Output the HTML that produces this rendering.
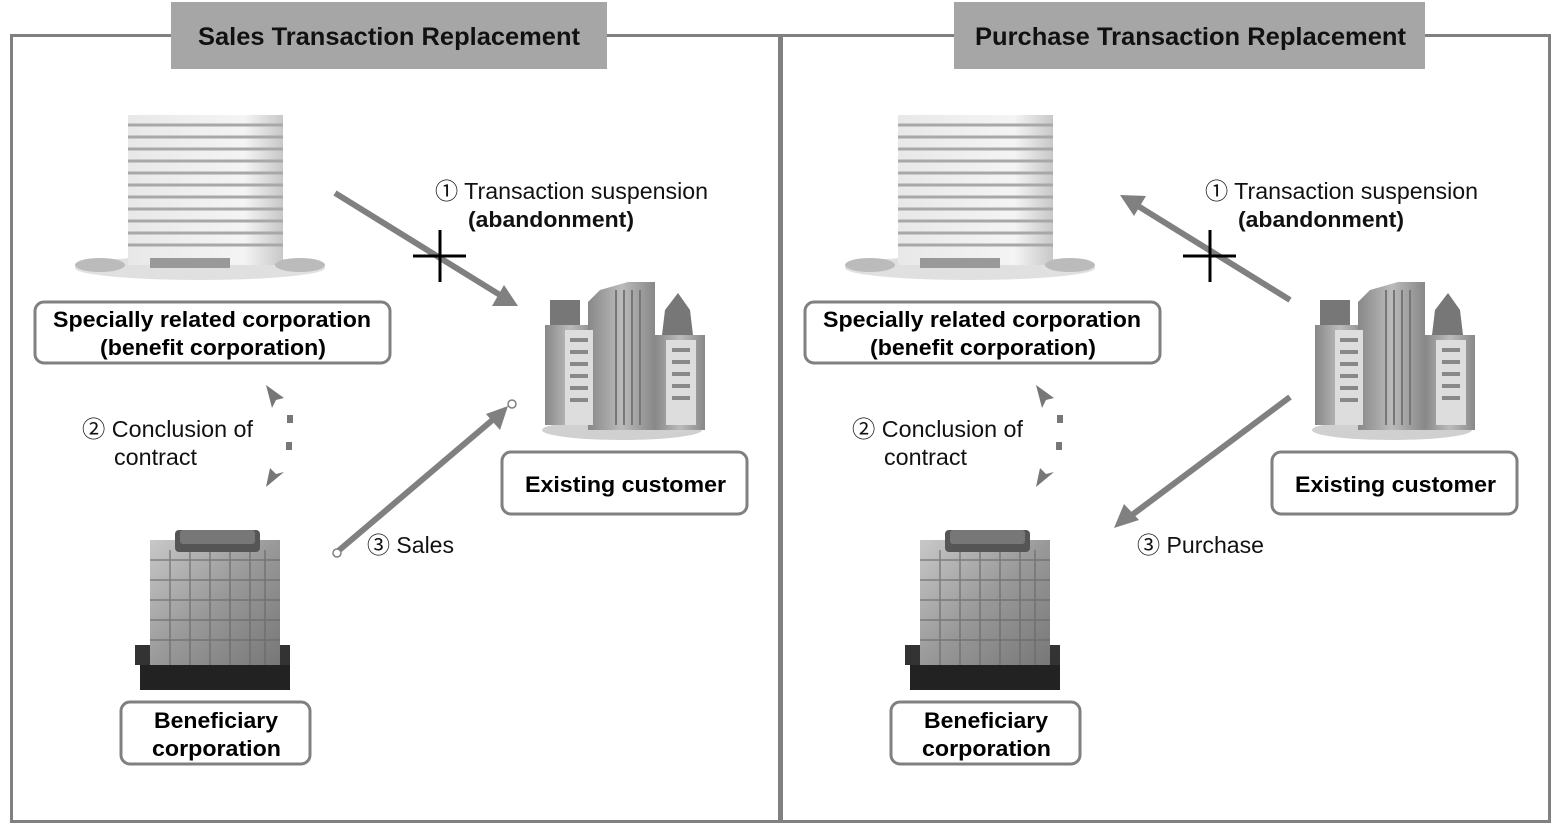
<!DOCTYPE html>
<html><head><meta charset="utf-8"><style>
html,body{margin:0;padding:0;background:#fff;}
svg{display:block;}
text{font-family:"Liberation Sans","Noto Sans CJK JP",sans-serif;}
</style></head><body>
<svg width="1560" height="826" viewBox="0 0 1560 826" xmlns="http://www.w3.org/2000/svg">
<defs>
<linearGradient id="tw" x1="0" x2="1"><stop offset="0" stop-color="#e8e8e8"/><stop offset="0.75" stop-color="#f4f4f4"/><stop offset="1" stop-color="#c8c8c8"/></linearGradient>
<linearGradient id="cg" x1="0" x2="1"><stop offset="0" stop-color="#888"/><stop offset="0.5" stop-color="#bbb"/><stop offset="1" stop-color="#888"/></linearGradient>
<linearGradient id="bg" x1="0" x2="1" y1="0" y2="1"><stop offset="0" stop-color="#c8c8c8"/><stop offset="0.5" stop-color="#999"/><stop offset="1" stop-color="#777"/></linearGradient>

<g id="office">
 <ellipse cx="200" cy="268" rx="125" ry="12" fill="#e0e0e0"/>
 <rect x="128" y="115" width="155" height="150" fill="url(#tw)"/>
 <g stroke="#a8a8a8" stroke-width="3">
  <line x1="128" y1="125" x2="283" y2="125"/><line x1="128" y1="137" x2="283" y2="137"/>
  <line x1="128" y1="149" x2="283" y2="149"/><line x1="128" y1="161" x2="283" y2="161"/>
  <line x1="128" y1="173" x2="283" y2="173"/><line x1="128" y1="185" x2="283" y2="185"/>
  <line x1="128" y1="197" x2="283" y2="197"/><line x1="128" y1="209" x2="283" y2="209"/>
  <line x1="128" y1="221" x2="283" y2="221"/><line x1="128" y1="233" x2="283" y2="233"/>
  <line x1="128" y1="245" x2="283" y2="245"/>
 </g>
 <rect x="150" y="258" width="80" height="10" fill="#999"/>
 <ellipse cx="100" cy="265" rx="25" ry="7" fill="#bbb"/>
 <ellipse cx="300" cy="265" rx="25" ry="7" fill="#bbb"/>
</g>

<g id="city">
 <ellipse cx="622" cy="430" rx="80" ry="10" fill="#d0d0d0"/>
 <rect x="550" y="300" width="30" height="30" fill="#777"/>
 <rect x="545" y="325" width="50" height="100" fill="url(#cg)"/>
 <path d="M588 302 L600 290 L628 282 L655 282 L655 430 L588 430Z" fill="url(#cg)"/>
 <g stroke="#777" stroke-width="2"><line x1="616" y1="290" x2="616" y2="425"/><line x1="624" y1="290" x2="624" y2="425"/><line x1="632" y1="290" x2="632" y2="425"/><line x1="640" y1="290" x2="640" y2="425"/></g>
 <path d="M662 335 L665 310 L678 293 L690 310 L693 335Z" fill="#777"/>
 <rect x="655" y="335" width="50" height="95" fill="url(#cg)"/>
 <rect x="565" y="330" width="28" height="95" fill="#ddd"/>
 <rect x="666" y="340" width="30" height="85" fill="#ddd"/>
 <g fill="#888">
  <rect x="570" y="338" width="18" height="4"/><rect x="570" y="350" width="18" height="4"/><rect x="570" y="362" width="18" height="4"/><rect x="570" y="374" width="18" height="4"/><rect x="570" y="386" width="18" height="4"/><rect x="570" y="398" width="18" height="4"/>
  <rect x="672" y="348" width="18" height="4"/><rect x="672" y="360" width="18" height="4"/><rect x="672" y="372" width="18" height="4"/><rect x="672" y="384" width="18" height="4"/><rect x="672" y="396" width="18" height="4"/>
 </g>
</g>

<g id="bene">
 <rect x="140" y="645" width="150" height="45" fill="#222"/>
 <rect x="135" y="645" width="155" height="20" fill="#333"/>
 <rect x="150" y="540" width="130" height="125" fill="url(#bg)"/>
 <g stroke="#666" stroke-width="1.5" opacity="0.7">
  <line x1="150" y1="560" x2="280" y2="560"/><line x1="150" y1="580" x2="280" y2="580"/><line x1="150" y1="600" x2="280" y2="600"/><line x1="150" y1="620" x2="280" y2="620"/><line x1="150" y1="640" x2="280" y2="640"/>
  <line x1="170" y1="550" x2="170" y2="665"/><line x1="190" y1="550" x2="190" y2="665"/><line x1="210" y1="550" x2="210" y2="665"/><line x1="230" y1="550" x2="230" y2="665"/><line x1="250" y1="550" x2="250" y2="665"/><line x1="265" y1="550" x2="265" y2="665"/>
 </g>
 <rect x="175" y="530" width="85" height="22" rx="4" fill="#555"/>
 <rect x="180" y="530" width="75" height="14" rx="3" fill="#777"/>
</g>

<g id="dots" fill="#777">
 <path d="M266 385 L284 398 L276 400 L272 408Z"/>
 <rect x="287" y="415" width="6" height="8"/>
 <rect x="286" y="442" width="6" height="8"/>
 <path d="M266 487 L270 468 L276 474 L284 472Z"/>
</g>
</defs>

<rect x="11.5" y="35.5" width="768" height="786" fill="none" stroke="#808080" stroke-width="3"/>
<rect x="781.5" y="35.5" width="768" height="786" fill="none" stroke="#808080" stroke-width="3"/>
<rect x="171" y="2" width="436" height="67" fill="#a6a6a6"/>
<rect x="954" y="2" width="471" height="67" fill="#a6a6a6"/>
<text x="198" y="45" textLength="382" lengthAdjust="spacingAndGlyphs" font-size="25" font-weight="bold" fill="#111">Sales Transaction Replacement</text>
<text x="975" y="45" textLength="431" lengthAdjust="spacingAndGlyphs" font-size="25" font-weight="bold" fill="#111">Purchase Transaction Replacement</text>

<use href="#office"/><use href="#office" x="770"/>
<use href="#city"/><use href="#city" x="770"/>
<use href="#bene"/><use href="#bene" x="770"/>
<use href="#dots"/><use href="#dots" x="770"/>

<g fill="#fff" stroke="#808080" stroke-width="3">
 <rect x="35" y="302" width="355" height="61" rx="9"/>
 <rect x="502" y="452" width="245" height="62" rx="9"/>
 <rect x="121" y="702" width="189" height="62" rx="9"/>
 <rect x="805" y="302" width="355" height="61" rx="9"/>
 <rect x="1272" y="452" width="245" height="62" rx="9"/>
 <rect x="891" y="702" width="189" height="62" rx="9"/>
</g>
<g font-size="22" font-weight="bold" fill="#000" lengthAdjust="spacingAndGlyphs">
 <text x="53" y="327" textLength="318" lengthAdjust="spacingAndGlyphs">Specially related corporation</text>
 <text x="100" y="355" textLength="226" lengthAdjust="spacingAndGlyphs">(benefit corporation)</text>
 <text x="525" y="492" textLength="201" lengthAdjust="spacingAndGlyphs">Existing customer</text>
 <text x="154" y="728" textLength="124" lengthAdjust="spacingAndGlyphs">Beneficiary</text>
 <text x="152" y="756" textLength="129" lengthAdjust="spacingAndGlyphs">corporation</text>
 <text x="823" y="327" textLength="318" lengthAdjust="spacingAndGlyphs">Specially related corporation</text>
 <text x="870" y="355" textLength="226" lengthAdjust="spacingAndGlyphs">(benefit corporation)</text>
 <text x="1295" y="492" textLength="201" lengthAdjust="spacingAndGlyphs">Existing customer</text>
 <text x="924" y="728" textLength="124" lengthAdjust="spacingAndGlyphs">Beneficiary</text>
 <text x="922" y="756" textLength="129" lengthAdjust="spacingAndGlyphs">corporation</text>
</g>

<g stroke="#808080" stroke-width="6" fill="#808080">
 <line x1="335" y1="193" x2="500" y2="295"/>
 <line x1="337" y1="552" x2="496" y2="417"/>
 <line x1="1290" y1="300" x2="1138" y2="206"/>
 <line x1="1290" y1="397" x2="1132" y2="515"/>
</g>
<g fill="#808080">
 <path d="M518 306 L492 306 L504 285Z"/>
 <path d="M508 406 L500 430 L486 414Z"/>
 <path d="M1120 195 L1146 196 L1134 216Z"/>
 <path d="M1114 528 L1124 504 L1139 520Z"/>
</g>
<circle cx="337" cy="553" r="4" fill="#fff" stroke="#808080" stroke-width="1.5"/>
<circle cx="512" cy="404" r="4" fill="#fff" stroke="#808080" stroke-width="1.5"/>
<g stroke="#000" stroke-width="3">
 <line x1="413" y1="256" x2="466" y2="256"/><line x1="440" y1="230" x2="440" y2="282"/>
 <line x1="1183" y1="256" x2="1236" y2="256"/><line x1="1210" y1="230" x2="1210" y2="282"/>
</g>

<g font-size="23" fill="#111">
 <text x="435" y="199" textLength="273" lengthAdjust="spacingAndGlyphs">① Transaction suspension</text>
 <text x="468" y="227" font-weight="bold" font-size="22" textLength="166" lengthAdjust="spacingAndGlyphs">(abandonment)</text>
 <text x="82" y="437" textLength="171" lengthAdjust="spacingAndGlyphs">② Conclusion of</text>
 <text x="114" y="465" textLength="83" lengthAdjust="spacingAndGlyphs">contract</text>
 <text x="367" y="553" textLength="87" lengthAdjust="spacingAndGlyphs">③ Sales</text>
 <text x="1205" y="199" textLength="273" lengthAdjust="spacingAndGlyphs">① Transaction suspension</text>
 <text x="1238" y="227" font-weight="bold" font-size="22" textLength="166" lengthAdjust="spacingAndGlyphs">(abandonment)</text>
 <text x="852" y="437" textLength="171" lengthAdjust="spacingAndGlyphs">② Conclusion of</text>
 <text x="884" y="465" textLength="83" lengthAdjust="spacingAndGlyphs">contract</text>
 <text x="1137" y="553" textLength="127" lengthAdjust="spacingAndGlyphs">③ Purchase</text>
</g>
</svg>
</body></html>
